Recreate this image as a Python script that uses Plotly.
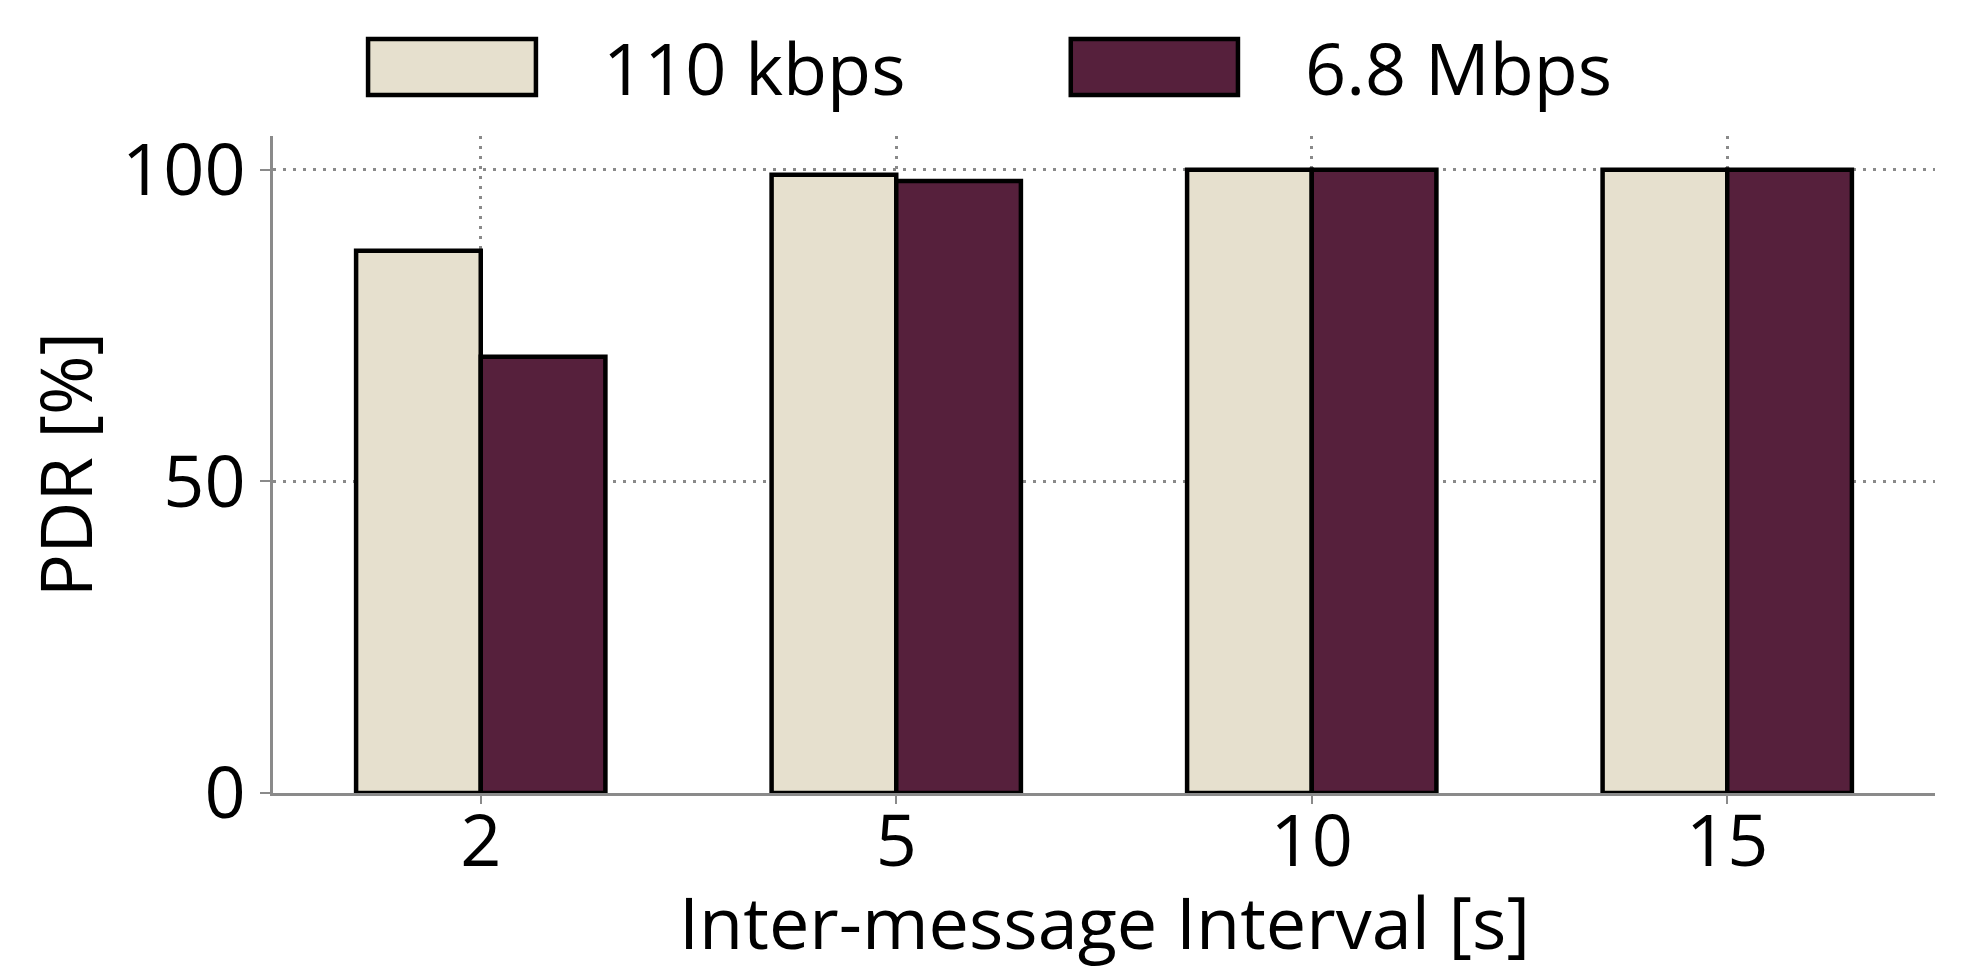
import plotly.graph_objects as go

categories = ["2", "5", "10", "15"]
series_names = ["110 kbps", "6.8 Mbps"]
pdr_110k = [87.0, 99.2, 100.0, 100.0]
pdr_68m = [70.0, 98.2, 100.0, 100.0]
y_ticks = [0, 50, 100]
x_title = "Inter-message Interval [s]"
y_title = "PDR [%]"

colors = ["#E6E0CE", "#56203C"]
FONT = "Open Sans"
FS = 72

fig = go.Figure()
for name, vals, col in zip(series_names, [pdr_110k, pdr_68m], colors):
    fig.add_trace(go.Bar(
        x=categories, y=vals, name=name, showlegend=False,
        marker=dict(color=col, line=dict(color="black", width=4.5)),
    ))

# custom legend (large boxes like the reference)
legend_boxes = [(0.0572, 0.1582, 0.1974), (0.480, 0.5806, 0.6197)]
for (x0, x1, tx), name, col in zip(legend_boxes, series_names, colors):
    fig.add_shape(type="rect", xref="paper", yref="paper",
                  x0=x0, x1=x1, y0=1.0624, y1=1.1476,
                  fillcolor=col, line=dict(color="black", width=4.5))
    fig.add_annotation(xref="paper", yref="paper", x=tx, y=1.105,
                       text=name, showarrow=False, xanchor="left", yanchor="middle",
                       font=dict(family=FONT, size=FS, color="black"))

# x-axis title as annotation for precise placement
fig.add_annotation(xref="paper", yref="paper", x=0.5, y=-0.195,
                   text=x_title, showarrow=False, xanchor="center", yanchor="middle",
                   font=dict(family=FONT, size=FS, color="black"))

fig.update_layout(
    width=1964, height=974,
    paper_bgcolor="white", plot_bgcolor="white",
    margin=dict(l=265, r=37, t=128, b=189, autoexpand=False),
    barmode="group", bargap=0.4, bargroupgap=0,
    font=dict(family=FONT, size=FS, color="black"),
)
fig.update_xaxes(
    type="category", range=[-0.5, 3.5],
    showline=True, linecolor="#8a8a8a", linewidth=3,
    ticks="outside", ticklen=8, tickwidth=2, tickcolor="#8a8a8a",
    showgrid=True, gridcolor="#8a8a8a", gridwidth=3, griddash="3px,7px",
    tickfont=dict(family=FONT, size=FS, color="black"),
    ticklabelstandoff=-24,
    automargin=False,
)
fig.update_yaxes(
    range=[0, 105.4], tickvals=y_ticks,
    showline=True, linecolor="#8a8a8a", linewidth=3,
    ticks="outside", ticklen=10, tickwidth=2, tickcolor="#8a8a8a",
    showgrid=True, gridcolor="#8a8a8a", gridwidth=3, griddash="3px,7px",
    zeroline=False,
    tickfont=dict(family=FONT, size=FS, color="black"),
    title=dict(text=y_title, font=dict(family=FONT, size=FS, color="black"), standoff=6),
    automargin=False,
)

fig.write_html("out.html")
